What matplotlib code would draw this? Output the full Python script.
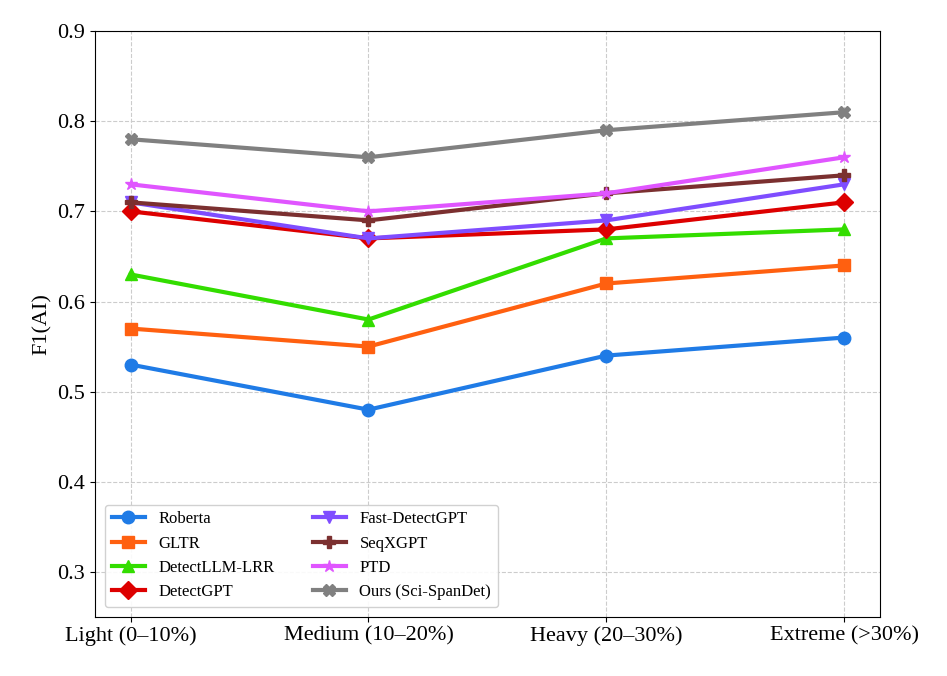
import matplotlib.pyplot as plt

plt.rcParams["font.family"] = ["Liberation Serif", "DejaVu Serif"]

# Data
levels = ["Light (0\u201310%)", "Medium (10\u201320%)", "Heavy (20\u201330%)", "Extreme (>30%)"]
roberta = [0.53, 0.48, 0.54, 0.56]
gltr = [0.57, 0.55, 0.62, 0.64]
detectllm = [0.63, 0.58, 0.67, 0.68]
detectgpt = [0.70, 0.67, 0.68, 0.71]
fast_detectgpt = [0.71, 0.67, 0.69, 0.73]
seqxgpt = [0.71, 0.69, 0.72, 0.74]
ptd = [0.73, 0.70, 0.72, 0.76]
ours = [0.78, 0.76, 0.79, 0.81]

series = [
    ("Roberta", roberta, "#1f7be6", "o"),
    ("GLTR", gltr, "#ff6010", "s"),
    ("DetectLLM-LRR", detectllm, "#33dd00", "^"),
    ("DetectGPT", detectgpt, "#dd0000", "D"),
    ("Fast-DetectGPT", fast_detectgpt, "#7f4dff", "v"),
    ("SeqXGPT", seqxgpt, "#7b3030", "P"),
    ("PTD", ptd, "#e055ff", "*"),
    ("Ours (Sci-SpanDet)", ours, "#808080", "X"),
]

fig = plt.figure(figsize=(9.47, 6.76), dpi=100)
ax = fig.add_axes([0.1003, 0.0873, 0.8287, 0.8667])

x = range(len(levels))
for name, vals, color, marker in series:
    ax.plot(x, vals, color=color, marker=marker, linewidth=3, markersize=9, label=name)

ax.set_xticks(list(x))
ax.set_xticklabels(levels, fontsize=16)
ax.set_ylim(0.25, 0.9)
ax.set_yticks([0.3, 0.4, 0.5, 0.6, 0.7, 0.8, 0.9])
ax.tick_params(axis="y", labelsize=16)
ax.set_ylabel("F1(AI)", fontsize=16)
ax.grid(True, linestyle="--", color="#cccccc", linewidth=0.8)

ax.legend(loc="lower left", ncol=2, fontsize=12, framealpha=0.9, edgecolor="#cccccc",
          columnspacing=2.3, handlelength=2.0, borderaxespad=0.6)

plt.savefig("out.png", dpi=100)
